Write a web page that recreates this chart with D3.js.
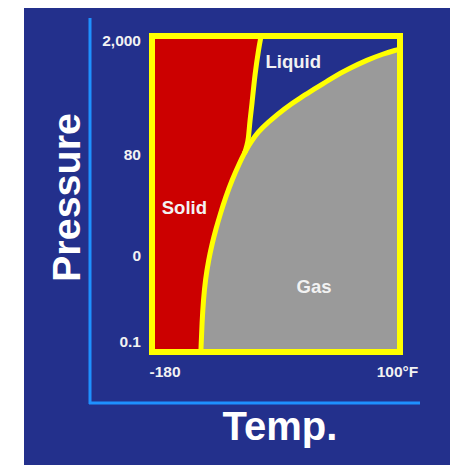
<!DOCTYPE html>
<html>
<head>
<meta charset="utf-8">
<script src="https://cdn.jsdelivr.net/npm/d3@7"></script>
<style>
  html, body { margin: 0; padding: 0; background: #ffffff; }
  svg { display: block; }
  text { font-family: Arial, "Liberation Sans", sans-serif; font-weight: bold; }
</style>
</head>
<body>
<svg id="chart" width="462" height="465"></svg>
<script>
// ---- data ----
// Temperature (°F) on x; pressure is drawn on a schematic (non-linear) level from 0 (bottom) to 1 (top)
const tempDomain = [-180, 100];
const levelDomain = [0, 1];
const xTickValues = [-180, 100];
const xTickLabels = ["-180", "100°F"];
const yTickLevels = [0.994, 0.626, 0.30, 0.023];
const yTickLabels = ["2,000", "80", "0", "0.1"];

// Phase boundaries [temperature °F, pressure level]
const sublimationCurve = [[-126.8, 0], [-125.6, 0.084], [-124.0, 0.158], [-121.7, 0.223], [-118.0, 0.287],
  [-113.7, 0.342], [-109.8, 0.384], [-104.1, 0.439], [-98.2, 0.49], [-90.9, 0.545], [-82.2, 0.6], [-75.9, 0.635]];
const meltingCurve = [[-75.9, 0.635], [-73.6, 0.658], [-72.0, 0.674], [-70.1, 0.739], [-68.1, 0.781],
  [-64.3, 0.89], [-59.7, 0.974], [-57.9, 1]];
const vaporCurve = [[-75.9, 0.635], [-69.0, 0.668], [-60.8, 0.7], [-50.4, 0.729], [-29.6, 0.777], [-12.2, 0.81],
  [8.6, 0.845], [26.0, 0.877], [45.6, 0.906], [65.3, 0.932], [83.8, 0.952], [100, 0.965]];

const regionLabels = [
  { name: "Solid", t: -146, level: 0.437 },
  { name: "Liquid", t: -20, level: 0.906 },
  { name: "Gas", t: 4, level: 0.18 }
];

// ---- drawing ----
const svg = d3.select("#chart");
const W = 462, H = 465;

svg.append("rect").attr("x", 0).attr("y", 0).attr("width", W).attr("height", H).attr("fill", "#ffffff");
svg.append("rect").attr("x", 24).attr("y", 8).attr("width", 426).attr("height", 457).attr("fill", "#23308c");

const x = d3.scaleLinear().domain(tempDomain).range([155, 397]);
const y = d3.scaleLinear().domain(levelDomain).range([349, 39]);

const line = d3.line().x(d => x(d[0])).y(d => y(d[1])).curve(d3.curveBasis);

// Liquid area (background inside box)
svg.append("rect")
  .attr("x", x(tempDomain[0])).attr("y", y(levelDomain[1]))
  .attr("width", x(tempDomain[1]) - x(tempDomain[0]))
  .attr("height", y(levelDomain[0]) - y(levelDomain[1]))
  .attr("fill", "#23308c");

// Solid area
const meltRev = meltingCurve.slice().reverse();
const sublRev = sublimationCurve.slice().reverse();
const solidPath =
  "M" + x(tempDomain[0]) + "," + y(0) +
  "L" + x(tempDomain[0]) + "," + y(1) +
  "L" + line(meltRev).slice(1) +
  "L" + line(sublRev).slice(1) + "Z";
svg.append("path").attr("d", solidPath).attr("fill", "#cc0000");

// Gas area
const gasPath =
  line(sublimationCurve) +
  "L" + line(vaporCurve).slice(1) +
  "L" + x(tempDomain[1]) + "," + y(0) + "Z";
svg.append("path").attr("d", gasPath).attr("fill", "#9a9a9a");

// Boundary curves
[sublimationCurve, meltingCurve, vaporCurve].forEach(c => {
  svg.append("path").attr("d", line(c))
    .attr("fill", "none").attr("stroke", "#ffff00")
    .attr("stroke-width", 5).attr("stroke-linejoin", "round").attr("stroke-linecap", "round");
});

// Box
svg.append("rect")
  .attr("x", x(tempDomain[0]) - 3).attr("y", y(1) - 3)
  .attr("width", x(tempDomain[1]) - x(tempDomain[0]) + 6)
  .attr("height", y(0) - y(1) + 6)
  .attr("fill", "none").attr("stroke", "#ffff00").attr("stroke-width", 6);

// Axis lines
svg.append("line").attr("x1", 90).attr("y1", 18).attr("x2", 90).attr("y2", 404)
  .attr("stroke", "#1e90ff").attr("stroke-width", 3);
svg.append("line").attr("x1", 89).attr("y1", 403).attr("x2", 420).attr("y2", 403)
  .attr("stroke", "#1e90ff").attr("stroke-width", 3);

// Y axis ticks
const yAxis = d3.axisLeft(y).tickValues(yTickLevels)
  .tickFormat((d, i) => yTickLabels[i]).tickSize(0).tickPadding(14);
const gy = svg.append("g").attr("transform", "translate(155,0)").call(yAxis);
gy.select(".domain").remove();
gy.selectAll("text").attr("fill", "#f2f2f2").style("font-size", "15.5px")
  .style("font-family", "Arial, 'Liberation Sans', sans-serif").style("font-weight", "bold");

// X axis ticks
const xAxis = d3.axisBottom(x).tickValues(xTickValues)
  .tickFormat((d, i) => xTickLabels[i]).tickSize(0).tickPadding(17);
const gx = svg.append("g").attr("transform", "translate(0,349)").call(xAxis);
gx.select(".domain").remove();
gx.selectAll("text").attr("fill", "#f2f2f2").style("font-size", "15.5px")
  .style("font-family", "Arial, 'Liberation Sans', sans-serif").style("font-weight", "bold")
  .attr("text-anchor", (d, i) => i === 0 ? "start" : "middle")
  .attr("dx", (d, i) => i === 0 ? "-6" : "0");

// Region labels
svg.selectAll("text.region").data(regionLabels).enter().append("text")
  .attr("class", "region")
  .attr("x", d => x(d.t)).attr("y", d => y(d.level))
  .attr("text-anchor", "middle")
  .attr("fill", "#f2f2f2").style("font-size", "18.5px")
  .text(d => d.name);

// Axis titles
svg.append("text").attr("transform", "translate(80,197.5) rotate(-90)")
  .attr("text-anchor", "middle").attr("fill", "#ffffff").style("font-size", "39.5px")
  .text("Pressure");
svg.append("text").attr("x", 280).attr("y", 440)
  .attr("text-anchor", "middle").attr("fill", "#ffffff").style("font-size", "40px")
  .text("Temp.");
</script>
</body>
</html>
